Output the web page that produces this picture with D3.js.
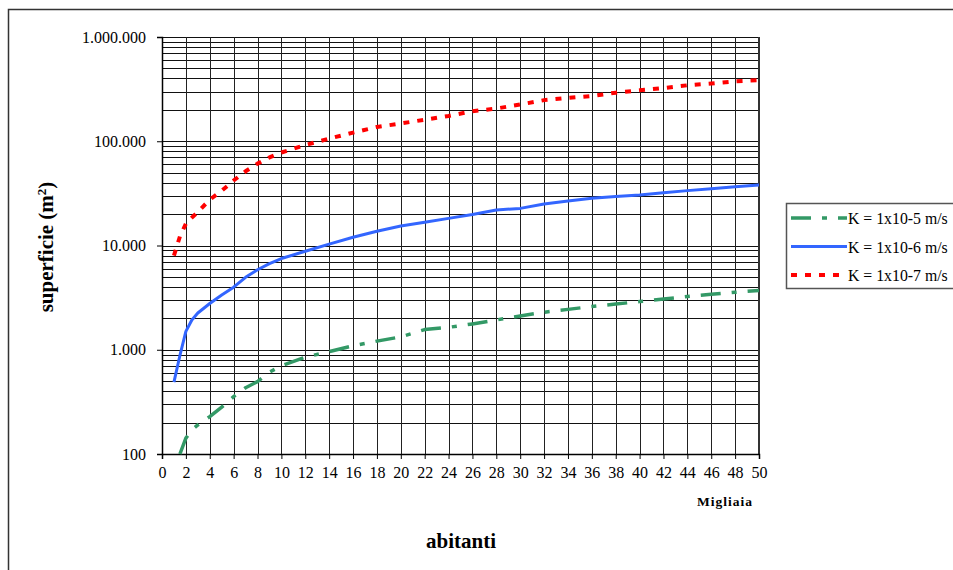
<!DOCTYPE html>
<html>
<head>
<meta charset="utf-8">
<script src="https://cdn.jsdelivr.net/npm/d3@7"></script>
<style>
  html, body { margin: 0; padding: 0; background: #fff; }
  svg { display: block; }
  text { font-family: "Liberation Serif", "Times New Roman", serif; fill: #000; }
</style>
</head>
<body>
<svg id="chart" width="953" height="570"></svg>
<script>
// abitanti (migliaia)
const abitanti = [1, 1.5, 2, 2.5, 3, 4, 5, 6, 7, 8, 9, 10, 12, 14, 16, 18, 20, 22, 24, 26, 28, 30, 32, 34, 36, 38, 40, 42, 44, 46, 48, 50];

// superficie (m²) per permeabilità
const k5 = [null, 100, 142, 170, 190, 228, 282, 355, 432, 495, 610, 703, 850, 960, 1090, 1210, 1330, 1560, 1640, 1770, 1930, 2110, 2290, 2440, 2600, 2740, 2900, 3060, 3240, 3400, 3560, 3700];
const k6 = [490, 880, 1500, 1930, 2250, 2780, 3350, 3980, 4950, 5850, 6700, 7500, 8800, 10300, 12000, 13700, 15400, 16700, 18200, 19800, 21900, 22700, 25000, 26700, 28400, 29500, 30500, 32000, 33600, 35100, 36700, 38000];
const k7 = [8000, 12200, 16200, 18500, 21000, 27500, 33500, 42000, 51500, 61000, 70000, 78000, 92000, 106000, 121000, 137000, 148000, 161000, 175000, 194000, 206000, 225000, 248000, 260000, 272000, 292000, 308000, 323000, 344000, 358000, 376000, 386000];

const seriesNames = ["K = 1x10-5 m/s", "K = 1x10-6 m/s", "K = 1x10-7 m/s"];
const xTicks = d3.range(0, 51, 2);
const yTicks = [100, 1000, 10000, 100000, 1000000];

const series = [
  { name: seriesNames[0], values: k5, color: "#339966", width: 3.5, dash: "20,11,5,11" },
  { name: seriesNames[1], values: k6, color: "#3366FF", width: 3, dash: null },
  { name: seriesNames[2], values: k7, color: "#FF0000", width: 4, dash: "6,8" }
];

const svg = d3.select("#chart");
const plot = { left: 162, right: 759, top: 37, bottom: 454 };

const x = d3.scaleLinear().domain([0, 50]).range([plot.left, plot.right]);
const y = d3.scaleLog().domain([100, 1000000]).range([plot.bottom, plot.top]);

const it = d3.formatLocale({ decimal: ",", thousands: ".", grouping: [3], currency: ["", ""] });
const fmt = it.format(",");

// outer chart frame
svg.append("rect")
  .attr("x", 8.5).attr("y", 9.5).attr("width", 1000).attr("height", 600)
  .attr("fill", "#fff").attr("stroke", "#333").attr("stroke-width", 1.5);

// plot background
svg.append("rect")
  .attr("x", plot.left).attr("y", plot.top)
  .attr("width", plot.right - plot.left).attr("height", plot.bottom - plot.top)
  .attr("fill", "#fff");

// minor horizontal grid (log)
const minor = [];
for (let d = 100; d < 1000000; d *= 10) for (let m = 1; m < 10; m++) minor.push(d * m);
minor.push(1000000);

svg.append("g")
  .attr("transform", `translate(${plot.left},0)`)
  .call(d3.axisLeft(y).tickValues(minor).tickSize(-(plot.right - plot.left)).tickFormat(""))
  .call(g => g.select(".domain").remove())
  .call(g => g.selectAll("line").attr("stroke", "#111").attr("stroke-width", 1)
    .attr("shape-rendering", "crispEdges"));

// vertical grid
svg.append("g")
  .attr("transform", `translate(0,${plot.bottom})`)
  .call(d3.axisBottom(x).tickValues(xTicks).tickSize(-(plot.bottom - plot.top)).tickFormat(""))
  .call(g => g.select(".domain").remove())
  .call(g => g.selectAll("line").attr("stroke", "#222").attr("stroke-width", 1)
    .attr("shape-rendering", "crispEdges"));

// plot right border
svg.append("line")
  .attr("x1", plot.right).attr("x2", plot.right)
  .attr("y1", plot.top).attr("y2", plot.bottom)
  .attr("stroke", "#333").attr("stroke-width", 2);

// y axis
svg.append("g")
  .attr("transform", `translate(${plot.left},0)`)
  .call(d3.axisLeft(y).tickValues(yTicks).tickSize(5).tickPadding(11).tickFormat(fmt))
  .call(g => g.select(".domain").attr("stroke", "#000").attr("stroke-width", 1.5))
  .call(g => g.selectAll("line").attr("stroke", "#000"))
  .call(g => g.selectAll("text").attr("font-size", 16)
    .attr("font-family", "'Liberation Serif', serif"));

// x axis
svg.append("g")
  .attr("transform", `translate(0,${plot.bottom})`)
  .call(d3.axisBottom(x).tickValues(xTicks).tickSize(5).tickPadding(8).tickFormat(d3.format("d")))
  .call(g => g.select(".domain").attr("stroke", "#000").attr("stroke-width", 1.5))
  .call(g => g.selectAll("line").attr("stroke", "#000"))
  .call(g => g.selectAll("text").attr("font-size", 16)
    .attr("font-family", "'Liberation Serif', serif"));

// series lines
svg.append("clipPath").attr("id", "clip")
  .append("rect").attr("x", plot.left).attr("y", plot.top - 2)
  .attr("width", plot.right - plot.left).attr("height", plot.bottom - plot.top + 4);

const line = d3.line()
  .defined(d => d[1] != null)
  .x(d => x(d[0]))
  .y(d => y(d[1]));

const lines = svg.append("g").attr("clip-path", "url(#clip)");
series.forEach(s => {
  lines.append("path")
    .datum(abitanti.map((a, i) => [a, s.values[i]]))
    .attr("d", line)
    .attr("fill", "none")
    .attr("stroke", s.color)
    .attr("stroke-width", s.width)
    .attr("stroke-dasharray", s.dash)
    .attr("stroke-linejoin", "round");
});

// axis titles
const yTitle = svg.append("text")
  .attr("transform", "translate(53,247) rotate(-90)")
  .attr("text-anchor", "middle")
  .attr("font-size", 21).attr("font-weight", "bold");
yTitle.append("tspan").text("superficie (m");
yTitle.append("tspan").attr("baseline-shift", "super").attr("font-size", 13).text("2");
yTitle.append("tspan").text(")");

svg.append("text")
  .attr("x", 461).attr("y", 548)
  .attr("text-anchor", "middle")
  .attr("font-size", 21).attr("font-weight", "bold")
  .text("abitanti");

svg.append("text")
  .attr("x", 725).attr("y", 506)
  .attr("text-anchor", "middle")
  .attr("font-size", 13.5).attr("font-weight", "bold")
  .attr("letter-spacing", 1)
  .text("Migliaia");

// legend
const legend = svg.append("g");
legend.append("rect")
  .attr("x", 786.5).attr("y", 203.5).attr("width", 200).attr("height", 85)
  .attr("fill", "#fff").attr("stroke", "#555").attr("stroke-width", 1.5);

series.forEach((s, i) => {
  const ly = 218 + i * 28.5;
  legend.append("line")
    .attr("x1", 791).attr("x2", 847).attr("y1", ly).attr("y2", ly)
    .attr("stroke", s.color).attr("stroke-width", s.width)
    .attr("stroke-dasharray", s.dash);
  legend.append("text")
    .attr("x", 848).attr("y", ly + 6)
    .attr("font-size", 15.8)
    .text(s.name);
});
</script>
</body>
</html>
